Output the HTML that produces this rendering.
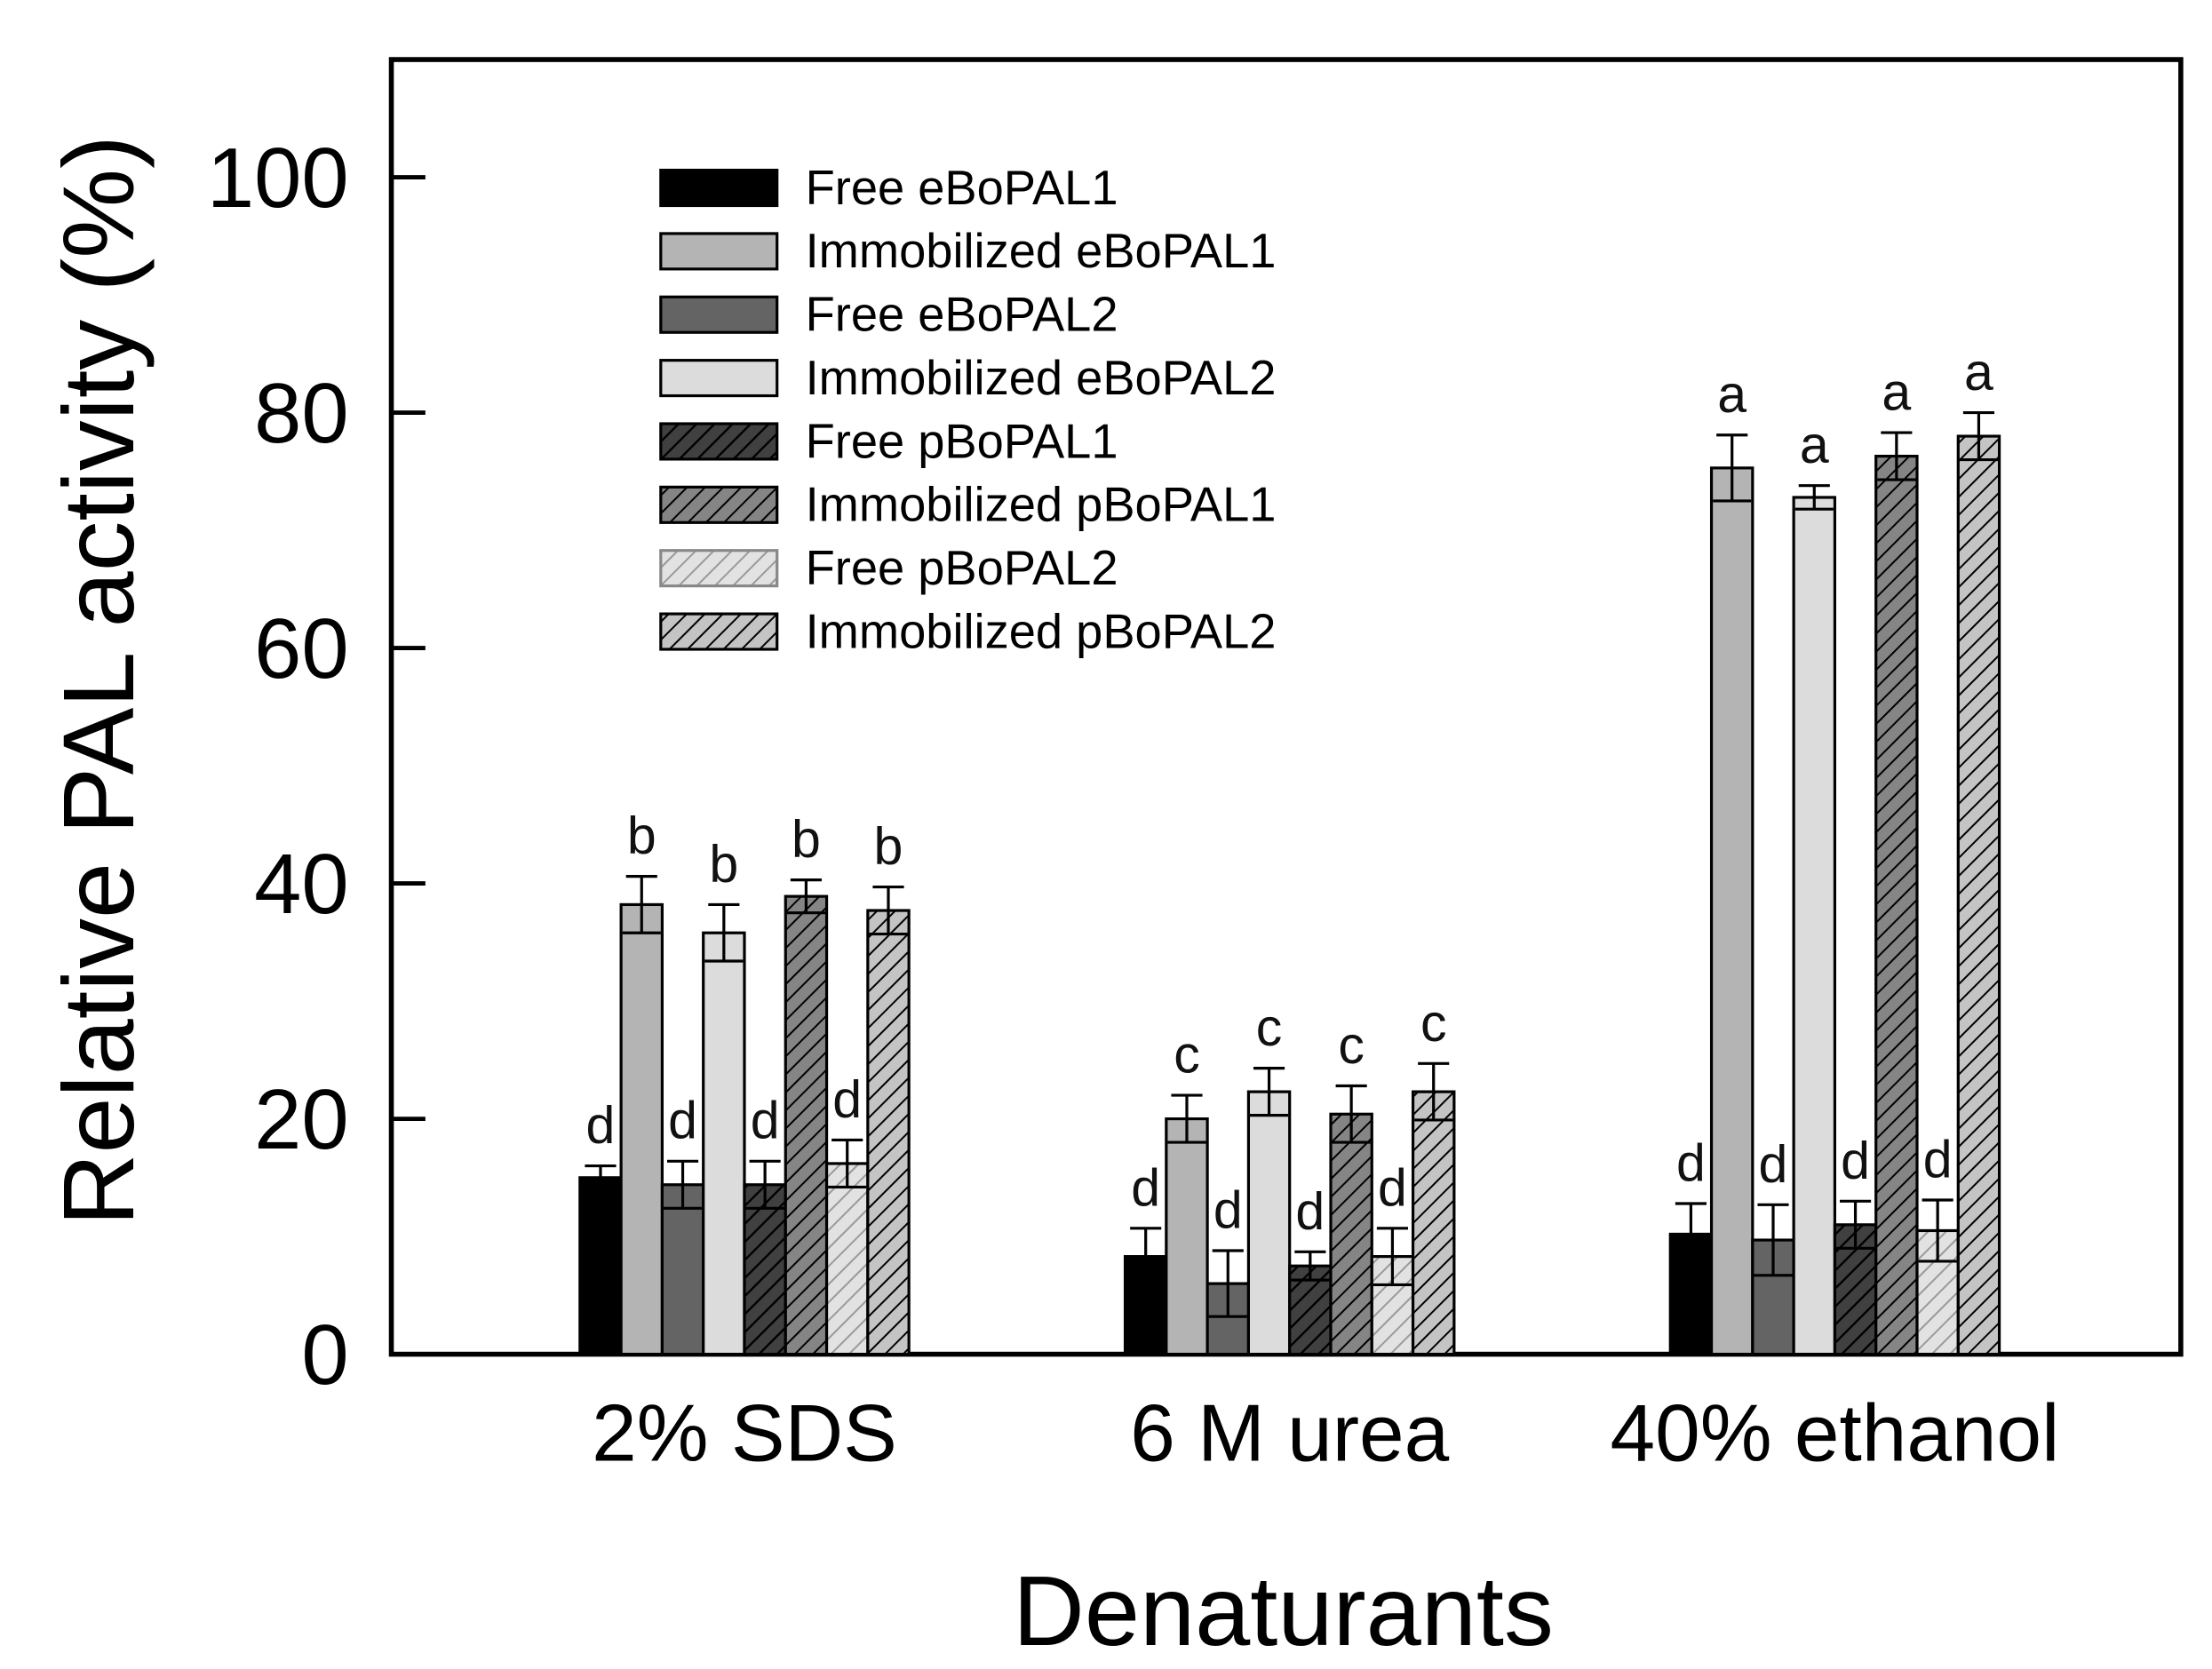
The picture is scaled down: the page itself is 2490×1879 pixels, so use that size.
<!DOCTYPE html>
<html><head><meta charset="utf-8"><style>html,body{margin:0;padding:0;background:#fff}svg{display:block}</style></head>
<body>
<svg width="2490" height="1879" viewBox="0 0 1560 1177" preserveAspectRatio="none" xmlns="http://www.w3.org/2000/svg" font-family="Liberation Sans, sans-serif">
<defs>
<pattern id="h1" patternUnits="userSpaceOnUse" width="9" height="9" patternTransform="rotate(45)"><rect width="9" height="9" fill="#404040"/><line x1="0" y1="0" x2="0" y2="9" stroke="#000" stroke-width="3"/></pattern>
<pattern id="h2" patternUnits="userSpaceOnUse" width="9" height="9" patternTransform="rotate(45)"><rect width="9" height="9" fill="#858585"/><line x1="0" y1="0" x2="0" y2="9" stroke="#000" stroke-width="2.5"/></pattern>
<pattern id="h3" patternUnits="userSpaceOnUse" width="9" height="9" patternTransform="rotate(45)"><rect width="9" height="9" fill="#e2e2e2"/><line x1="0" y1="0" x2="0" y2="9" stroke="#999" stroke-width="2.5"/></pattern>
<pattern id="h4" patternUnits="userSpaceOnUse" width="9" height="9" patternTransform="rotate(45)"><rect width="9" height="9" fill="#c4c4c4"/><line x1="0" y1="0" x2="0" y2="9" stroke="#000" stroke-width="2.5"/></pattern>
</defs>
<rect x="276" y="42" width="1262" height="913" fill="none" stroke="#000" stroke-width="3.5"/>
<g id="ticks"></g>
<g id="bars"></g>
<g id="legend"></g>
<text transform="translate(94,480) rotate(-90)" text-anchor="middle" font-size="71">Relative PAL activity (%)</text>
<text x="905" y="1160" text-anchor="middle" font-size="70">Denaturants</text>
</svg>
<script>
const categories = ["2% SDS","6 M urea","40% ethanol"];
const seriesNames = ["Free eBoPAL1","Immobilized eBoPAL1","Free eBoPAL2","Immobilized eBoPAL2","Free pBoPAL1","Immobilized pBoPAL1","Free pBoPAL2","Immobilized pBoPAL2"];
const sds = [15,38.2,14.4,35.8,14.4,38.9,16.2,37.7];
const urea = [8.3,20,6,22.3,7.5,20.4,8.3,22.3];
const ethanol = [10.2,75.3,9.7,72.8,11,76.3,10.5,78];
const sdsErr = [1,2.4,2,2.4,2,1.4,2,2];
const ureaErr = [2.4,2,2.8,2,1.2,2.4,2.4,2.4];
const ethanolErr = [2.6,2.8,3,1,2,2,2.6,2];
const sdsLetters = ["d","b","d","b","d","b","d","b"];
const ureaLetters = ["d","c","d","c","d","c","d","c"];
const ethanolLetters = ["d","a","d","a","d","a","d","a"];
const yTicks = [0,20,40,60,80,100];

const NS="http://www.w3.org/2000/svg";
const fills=["#000","#b4b4b4","#646464","#dcdcdc","url(#h1)","url(#h2)","url(#h3)","url(#h4)"];
const y=v=>955-v*8.3;
const groupCenter=i=>525+i*384.5;
const bw=29;
function mk(t,a,p){const e=document.createElementNS(NS,t);for(const k in a)e.setAttribute(k,a[k]);p.appendChild(e);return e;}
const tg=document.getElementById('ticks');
yTicks.forEach(t=>{
  const l=mk('line',{x1:276,x2:300,y1:y(t),y2:y(t),stroke:'#000','stroke-width':3},tg);
  
  
  const tx=mk('text',{x:246,y:y(t)+21,'text-anchor':'end','font-size':60},tg);
  
  
  tx.textContent=t;
});
const bg=document.getElementById('bars');
const vals=[sds,urea,ethanol],errs=[sdsErr,ureaErr,ethanolErr],lets=[sdsLetters,ureaLetters,ethanolLetters];
categories.forEach((c,gi)=>{
  const cx=groupCenter(gi);
  const tx=mk('text',{x:cx,y:1030,'text-anchor':'middle','font-size':57},bg);
  
  
  tx.textContent=c;
  vals[gi].forEach((v,si)=>{
    const x0=cx-4*bw+si*bw;
    const r=mk('rect',{x:x0,y:y(v),width:bw,height:955-y(v),fill:fills[si],stroke:'#000','stroke-width':2},bg);
    
    
    const e=errs[gi][si],m=x0+bw/2;
    const eb=mk('path',{d:`M${m},${y(v+e)}V${y(v-e)}M${m-11},${y(v+e)}H${m+11}M${x0+1},${y(v-e)}H${x0+bw-1}`,stroke:'#000','stroke-width':2,fill:'none'},bg);
    
    
    const lt=mk('text',{x:m,y:y(v+e)-16,'text-anchor':'middle','font-size':37,fill:'#111'},bg);
    
    
    lt.textContent=lets[gi][si];
  });
});
const lg=document.getElementById('legend');
seriesNames.forEach((n,i)=>{
  const cy=132+i*44.7;
  const r=mk('rect',{x:466,y:cy-12,width:82,height:25,fill:fills[i],stroke:i==6?'#888':'#000','stroke-width':2},lg);
  
  
  const t=mk('text',{x:568,y:cy+12,'font-size':34},lg);
  
  
  t.textContent=n;
});
</script>
</body></html>
